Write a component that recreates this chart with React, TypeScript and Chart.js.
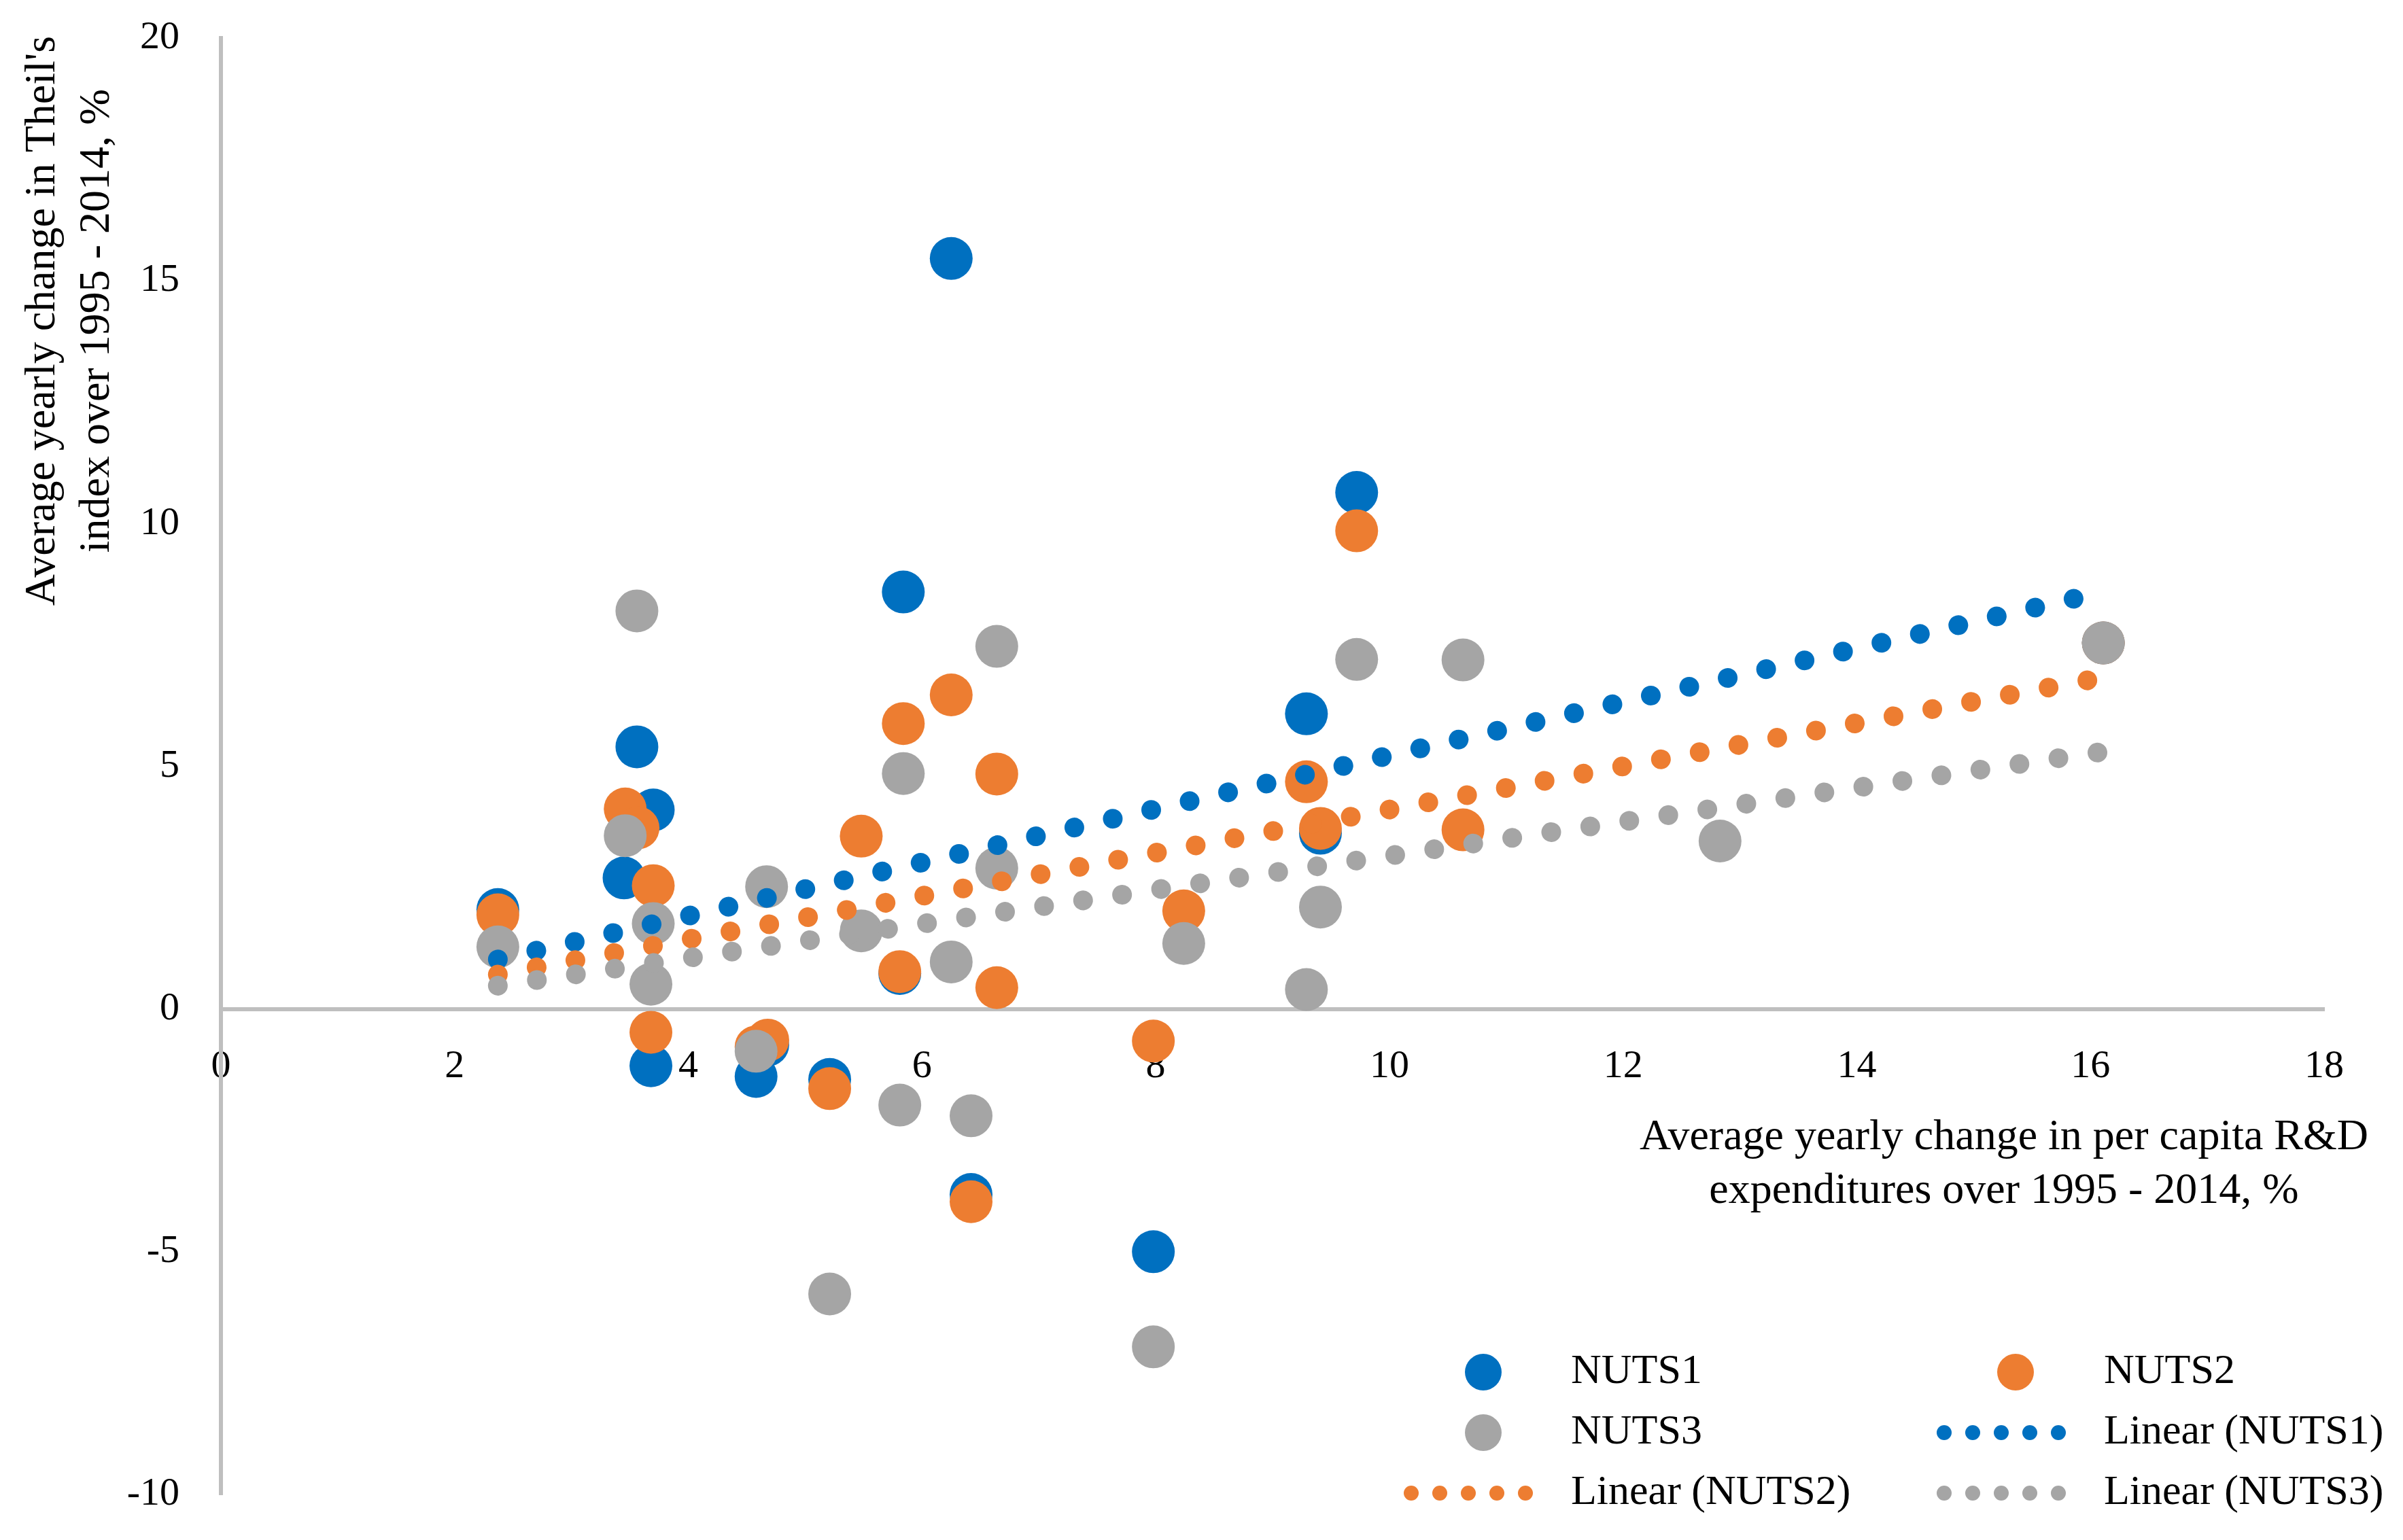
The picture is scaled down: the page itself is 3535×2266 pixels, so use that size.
import React, { useEffect, useRef } from 'react';
import { Chart, registerables } from 'chart.js';

Chart.register(...registerables);

const W = 3535;
const H = 2266;

const BLUE = '#0070C0';
const ORANGE = '#ED7D31';
const GRAY = '#A5A5A5';
const AXIS = '#BFBFBF';
const FONT = '"Liberation Serif", "Times New Roman", serif';

// NUTS1 series (x: R&D change, y: Theil change)
const NUTS1_X = [2.37, 3.45, 3.56, 3.70, 3.68, 4.58, 4.68, 5.21, 5.81, 5.84, 6.25, 6.42, 7.98, 9.29, 9.41, 9.72, 16.11];
const NUTS1_Y = [2.05, 2.70, 5.40, 4.10, -1.17, -1.39, -0.74, -1.45, 0.73, 8.59, 15.46, -3.82, -5.00, 6.08, 3.62, 10.64, 7.54];

// NUTS2 series
const NUTS2_X = [2.37, 3.46, 3.57, 3.70, 3.68, 4.58, 4.68, 5.21, 5.48, 5.81, 5.84, 6.25, 6.42, 6.64, 6.64, 7.98, 8.24, 9.29, 9.41, 9.72, 10.63, 16.11];
const NUTS2_Y = [1.94, 4.12, 3.73, 2.54, -0.48, -0.78, -0.64, -1.64, 3.56, 0.77, 5.88, 6.47, -3.97, 4.84, 0.44, -0.66, 2.02, 4.68, 3.72, 9.85, 3.69, 7.54];

// NUTS3 series
const NUTS3_X = [2.37, 3.46, 3.56, 3.70, 3.68, 4.58, 4.67, 5.21, 5.48, 5.81, 5.84, 6.25, 6.42, 6.64, 6.64, 7.98, 8.24, 9.29, 9.41, 9.72, 10.63, 12.83, 16.11];
const NUTS3_Y = [1.28, 3.57, 8.20, 1.76, 0.51, -0.87, 2.52, -5.87, 1.61, -1.98, 4.85, 0.97, -2.20, 7.47, 2.90, -6.96, 1.35, 0.40, 2.10, 7.20, 7.19, 3.46, 7.54];

// Linear trendlines (end points)
const TREND1_X = [2.37, 16.11];
const TREND1_Y = [1.02, 8.59];
const TREND2_X = [2.37, 16.11];
const TREND2_Y = [0.71, 6.83];
const TREND3_X = [2.37, 16.11];
const TREND3_Y = [0.48, 5.30];

const X_TICK_MIN = 0;
const X_TICK_MAX = 18;
const X_TICK_STEP = 2;
const Y_TICK_MIN = -10;
const Y_TICK_MAX = 20;
const Y_TICK_STEP = 5;

const X_TITLE = ['Average yearly change in per capita R&D', 'expenditures over 1995 - 2014, %'];
const Y_TITLE = ["Average yearly change in Theil's", 'index over 1995 - 2014, %'];

const LEGEND_LABELS = ['NUTS1', 'NUTS2', 'NUTS3', 'Linear (NUTS1)', 'Linear (NUTS2)', 'Linear (NUTS3)'];
const LEGEND_COLORS = [BLUE, ORANGE, GRAY, BLUE, ORANGE, GRAY];
const LEGEND_KINDS = ['marker', 'marker', 'marker', 'line', 'line', 'line'];

const pts = (xs: number[], ys: number[]) => xs.map((x, i) => ({ x, y: ys[i] }));

const textPlugin = {
  id: 'customText',
  afterDraw(chart: any) {
    const ctx = chart.ctx as CanvasRenderingContext2D;
    ctx.save();
    ctx.fillStyle = '#000';
    ctx.textBaseline = 'alphabetic';

    // X axis title
    ctx.font = `64px ${FONT}`;
    ctx.textAlign = 'center';
    X_TITLE.forEach((line, i) => ctx.fillText(line, 2948, 1691 + i * 79));

    // Y axis title (rotated)
    ctx.save();
    ctx.translate(0, 472);
    ctx.rotate(-Math.PI / 2);
    Y_TITLE.forEach((line, i) => ctx.fillText(line, 0, 80 + i * 80));
    ctx.restore();

    // Legend
    const colText = [2311, 3095];
    const colMarker = [2182, 2965];
    const colDots = [2160, 2944];
    const rowMid = [2019, 2108, 2197];
    const rowBase = [2035, 2124, 2213];
    ctx.font = `62px ${FONT}`;
    ctx.textAlign = 'left';
    LEGEND_LABELS.forEach((label, i) => {
      const col = i % 2;
      const row = Math.floor(i / 2);
      ctx.fillStyle = LEGEND_COLORS[i];
      if (LEGEND_KINDS[i] === 'marker') {
        ctx.beginPath();
        ctx.arc(colMarker[col], rowMid[row], 27, 0, Math.PI * 2);
        ctx.fill();
      } else {
        for (let k = -2; k <= 2; k++) {
          ctx.beginPath();
          ctx.arc(colDots[col] + k * 42, rowMid[row], 11, 0, Math.PI * 2);
          ctx.fill();
        }
      }
      ctx.fillStyle = '#000';
      ctx.fillText(label, colText[col], rowBase[row]);
    });
    ctx.restore();
  },
};

export default function App() {
  const ref = useRef<HTMLCanvasElement | null>(null);

  useEffect(() => {
    document.body.style.margin = '0';
    document.body.style.overflow = 'hidden';
    if (!ref.current) return;
    Chart.defaults.font.family = FONT;

    const scatter = (label: string, xs: number[], ys: number[], color: string, order: number) => ({
      label,
      data: pts(xs, ys),
      backgroundColor: color,
      borderColor: color,
      borderWidth: 0,
      pointRadius: 31.5,
      pointHoverRadius: 31.5,
      pointBorderWidth: 0,
      showLine: false,
      order,
    });
    const trend = (label: string, xs: number[], ys: number[], color: string, order: number) => ({
      label,
      data: pts(xs, ys),
      showLine: true,
      borderColor: color,
      backgroundColor: color,
      borderWidth: 29,
      borderDash: [0.01, 57.99],
      borderCapStyle: 'round',
      pointRadius: 0,
      pointHoverRadius: 0,
      order,
    });

    const zeroPad = (s: any) => {
      s.paddingTop = 0;
      s.paddingBottom = 0;
      s.paddingLeft = 0;
      s.paddingRight = 0;
    };

    const chart = new Chart(ref.current, {
      type: 'scatter',
      data: {
        datasets: [
          scatter('NUTS1', NUTS1_X, NUTS1_Y, BLUE, 6),
          scatter('NUTS2', NUTS2_X, NUTS2_Y, ORANGE, 5),
          scatter('NUTS3', NUTS3_X, NUTS3_Y, GRAY, 4),
          trend('Linear (NUTS1)', TREND1_X, TREND1_Y, BLUE, 3),
          trend('Linear (NUTS2)', TREND2_X, TREND2_Y, ORANGE, 2),
          trend('Linear (NUTS3)', TREND3_X, TREND3_Y, GRAY, 1),
        ] as any,
      },
      options: {
        responsive: false,
        animation: false,
        devicePixelRatio: 1,
        events: [],
        layout: { padding: { left: 0, top: 56, right: 116, bottom: 67 } },
        plugins: {
          legend: { display: false },
          tooltip: { enabled: false },
          title: { display: false },
        },
        scales: {
          x: {
            type: 'linear',
            position: { y: 0 } as any,
            min: X_TICK_MIN,
            max: X_TICK_MAX,
            ticks: {
              stepSize: X_TICK_STEP,
              padding: 50,
              color: '#000',
              maxRotation: 0,
              autoSkip: false,
              font: { size: 58, lineHeight: 1.2, family: FONT },
            },
            grid: { display: false, drawTicks: false },
            border: { color: AXIS, width: 6 },
            afterFit: (s: any) => {
              s.height = 0;
              zeroPad(s);
            },
          },
          y: {
            type: 'linear',
            position: 'left',
            min: Y_TICK_MIN,
            max: Y_TICK_MAX,
            ticks: {
              stepSize: Y_TICK_STEP,
              padding: 61,
              color: '#000',
              font: { size: 58, lineHeight: 1.2, family: FONT },
            },
            grid: { display: false, drawTicks: false },
            border: { color: AXIS, width: 6 },
            afterFit: (s: any) => {
              s.width = 325;
              zeroPad(s);
            },
          },
        },
      } as any,
      plugins: [textPlugin],
    });

    return () => chart.destroy();
  }, []);

  return (
    <div style={{ width: W, height: H, background: '#fff' }}>
      <canvas ref={ref} width={W} height={H} style={{ width: W, height: H, display: 'block' }} />
    </div>
  );
}
